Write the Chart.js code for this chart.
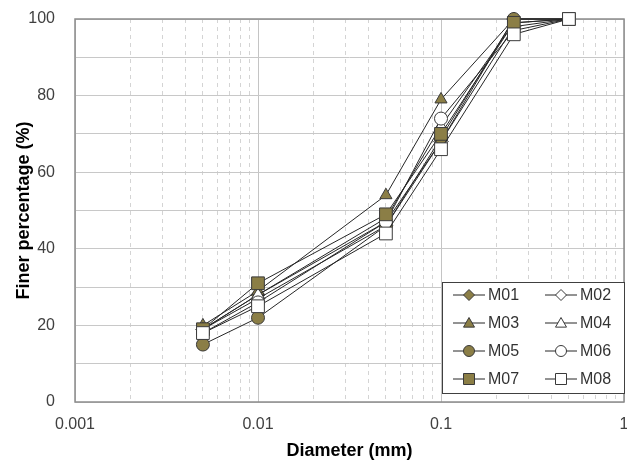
<!DOCTYPE html>
<html lang="en">
<head>
    <meta charset="UTF-8">
    <title>Finer percentage vs diameter</title>
    <script src="https://cdn.jsdelivr.net/npm/chart.js"></script>
    <style>
        body { margin: 0; background: #fff; }
        #wrap { width: 627px; height: 464px; }
    </style>
</head>
<body>
<div id="wrap"><canvas id="gradingChart" width="627" height="464"></canvas></div>

<script>
    // sieve sizes (mm) and finer percentages
    const diameters = [0.005, 0.01, 0.05, 0.1, 0.25, 0.5];
    const sampleNames = ['M01', 'M02', 'M03', 'M04', 'M05', 'M06', 'M07', 'M08'];
    const m01 = [19, 28, 47, 68, 100, 100];
    const m02 = [19, 27, 46, 68, 98, 100];
    const m03 = [20, 29, 54, 79, 100, 100];
    const m04 = [19, 28, 48, 72, 99, 100];
    const m05 = [15, 22, 46, 69, 100, 100];
    const m06 = [18, 26, 47, 74, 97, 100];
    const m07 = [19, 31, 49, 70, 99, 100];
    const m08 = [18, 25, 44, 66, 96, 100];
    const decades = [0.001, 0.01, 0.1, 1];
    const yTicks = [0, 20, 40, 60, 80, 100];

    const olive = '#8b7e46';
    const edge = '#3a3a3a';
    const tickFont = { family: '"Liberation Sans", Arial, sans-serif', size: 16 };
    const titleFont = { family: '"Liberation Sans", Arial, sans-serif', size: 18, weight: 'bold' };
    const seriesValues = [m01, m02, m03, m04, m05, m06, m07, m08];
    const shapes = ['rectRot', 'rectRot', 'triangle', 'triangle', 'circle', 'circle', 'rect', 'rect'];
    const radii = [7, 7, 7, 7, 6.5, 6.5, 9, 9];

    var datasets = sampleNames.map(function(name, i) {
        return {
            label: name,
            data: diameters.map(function(d, j) { return {x: d, y: seriesValues[i][j]}; }),
            borderColor: '#262626',
            borderWidth: 1,
            pointStyle: shapes[i],
            pointRadius: radii[i],
            pointBackgroundColor: i % 2 === 0 ? olive : '#ffffff',
            pointBorderColor: edge,
            pointBorderWidth: 1,
            tension: 0,
            clip: false,
            order: sampleNames.length - i   // later series on top, like the original
        };
    });

    // log grid: 1..9 in each decade
    var xTickValues = [];
    for (var k = 0; k < decades.length - 1; k++) {
        for (var s = 1; s <= 9; s++) {
            xTickValues.push(+(decades[k] * s).toPrecision(3));
        }
    }
    xTickValues.push(decades[decades.length - 1]);

    function isDecade(v) {
        return decades.some(function(d) { return Math.abs(d - v) < 1e-9; });
    }

    // plot frame drawn under the data
    const framePlugin = {
        id: 'frame',
        beforeDatasetsDraw(chart) {
            const a = chart.chartArea, ctx = chart.ctx;
            ctx.save();
            ctx.strokeStyle = '#8c8c8c';
            ctx.lineWidth = 1.5;
            ctx.strokeRect(a.left, a.top, a.right - a.left, a.bottom - a.top);
            ctx.restore();
        }
    };

    function drawMarker(ctx, shape, x, y, r, fill) {
        ctx.beginPath();
        if (shape === 'circle') {
            ctx.arc(x, y, r, 0, Math.PI * 2);
        } else if (shape === 'rect') {
            ctx.rect(x - r, y - r, 2 * r, 2 * r);
        } else if (shape === 'rectRot') {
            ctx.moveTo(x, y - r); ctx.lineTo(x + r, y); ctx.lineTo(x, y + r); ctx.lineTo(x - r, y);
            ctx.closePath();
        } else {
            ctx.moveTo(x, y - r); ctx.lineTo(x + r, y + r * 0.75); ctx.lineTo(x - r, y + r * 0.75);
            ctx.closePath();
        }
        ctx.fillStyle = fill;
        ctx.fill();
        ctx.strokeStyle = edge;
        ctx.lineWidth = 1;
        ctx.stroke();
    }

    // boxed legend inside the plot, bottom right
    const boxLegend = {
        id: 'boxLegend',
        afterDatasetsDraw(chart) {
            const ctx = chart.ctx, a = chart.chartArea;
            const w = 182, h = 111;
            const bx = a.right - w, by = a.bottom - h - 9;
            ctx.save();
            ctx.fillStyle = '#ffffff';
            ctx.fillRect(bx, by, w, h);
            ctx.strokeStyle = '#404040';
            ctx.lineWidth = 1;
            ctx.strokeRect(bx + 0.5, by + 0.5, w, h);
            ctx.font = '16px "Liberation Sans", Arial, sans-serif';
            ctx.textBaseline = 'middle';
            chart.data.datasets.forEach(function(ds, i) {
                const col = i % 2, row = Math.floor(i / 2);
                const lx = bx + 11 + col * 92, ly = by + 13 + row * 28;
                ctx.strokeStyle = '#262626';
                ctx.beginPath();
                ctx.moveTo(lx, ly); ctx.lineTo(lx + 32, ly);
                ctx.stroke();
                drawMarker(ctx, ds.pointStyle, lx + 16, ly, 5.5, ds.pointBackgroundColor);
                ctx.fillStyle = '#333333';
                ctx.fillText(ds.label, lx + 35, ly + 1);
            });
            ctx.restore();
        }
    };

    var ctx = document.getElementById('gradingChart').getContext('2d');
    var gradingChart = new Chart(ctx, {
        type: 'line',
        data: { datasets: datasets },
        plugins: [framePlugin, boxLegend],
        options: {
            responsive: false,
            animation: false,
            layout: { autoPadding: false, padding: { left: 9, right: 3, top: 19, bottom: 0 } },
            plugins: {
                legend: { display: false },
                tooltip: { enabled: false }
            },
            scales: {
                x: {
                    type: 'logarithmic',
                    min: 0.001,
                    max: 1,
                    afterBuildTicks: function(scale) {
                        scale.ticks = xTickValues.map(function(v) { return {value: v}; });
                    },
                    afterFit: function(scale) {
                        scale.paddingRight = 0;
                        scale.paddingLeft = 0;
                        scale.height = 62;
                    },
                    ticks: {
                        autoSkip: false,
                        maxRotation: 0,
                        padding: 13,
                        color: '#404040',
                        font: tickFont,
                        callback: function(value) {
                            return isDecade(value) ? String(value) : '';
                        }
                    },
                    grid: {
                        drawTicks: false,
                        color: function(c) {
                            return c.tick && isDecade(c.tick.value) ? '#c4c4c4' : '#d4d4d4';
                        }
                    },
                    border: {
                        display: false,
                        dash: function(c) {
                            if (!c.tick) return [];
                            return isDecade(c.tick.value) ? [] : [4, 4];
                        }
                    },
                    title: {
                        display: true,
                        text: 'Diameter (mm)',
                        color: '#000',
                        padding: { top: 6, bottom: 2 },
                        font: titleFont
                    }
                },
                y: {
                    min: 0,
                    max: 100,
                    afterFit: function(scale) {
                        scale.width = 66;
                        scale.paddingTop = 0;
                        scale.paddingBottom = 0;
                    },
                    ticks: {
                        stepSize: 10,
                        padding: 20,
                        color: '#404040',
                        font: tickFont,
                        callback: function(value) {
                            return yTicks.indexOf(value) >= 0 ? value : '';
                        }
                    },
                    grid: { drawTicks: false, color: '#c8c8c8' },
                    border: { display: false },
                    title: {
                        display: true,
                        text: 'Finer percentage (%)',
                        color: '#000',
                        padding: { top: 4, bottom: 0 },
                        font: titleFont
                    }
                }
            }
        }
    });
</script>
</body>
</html>
